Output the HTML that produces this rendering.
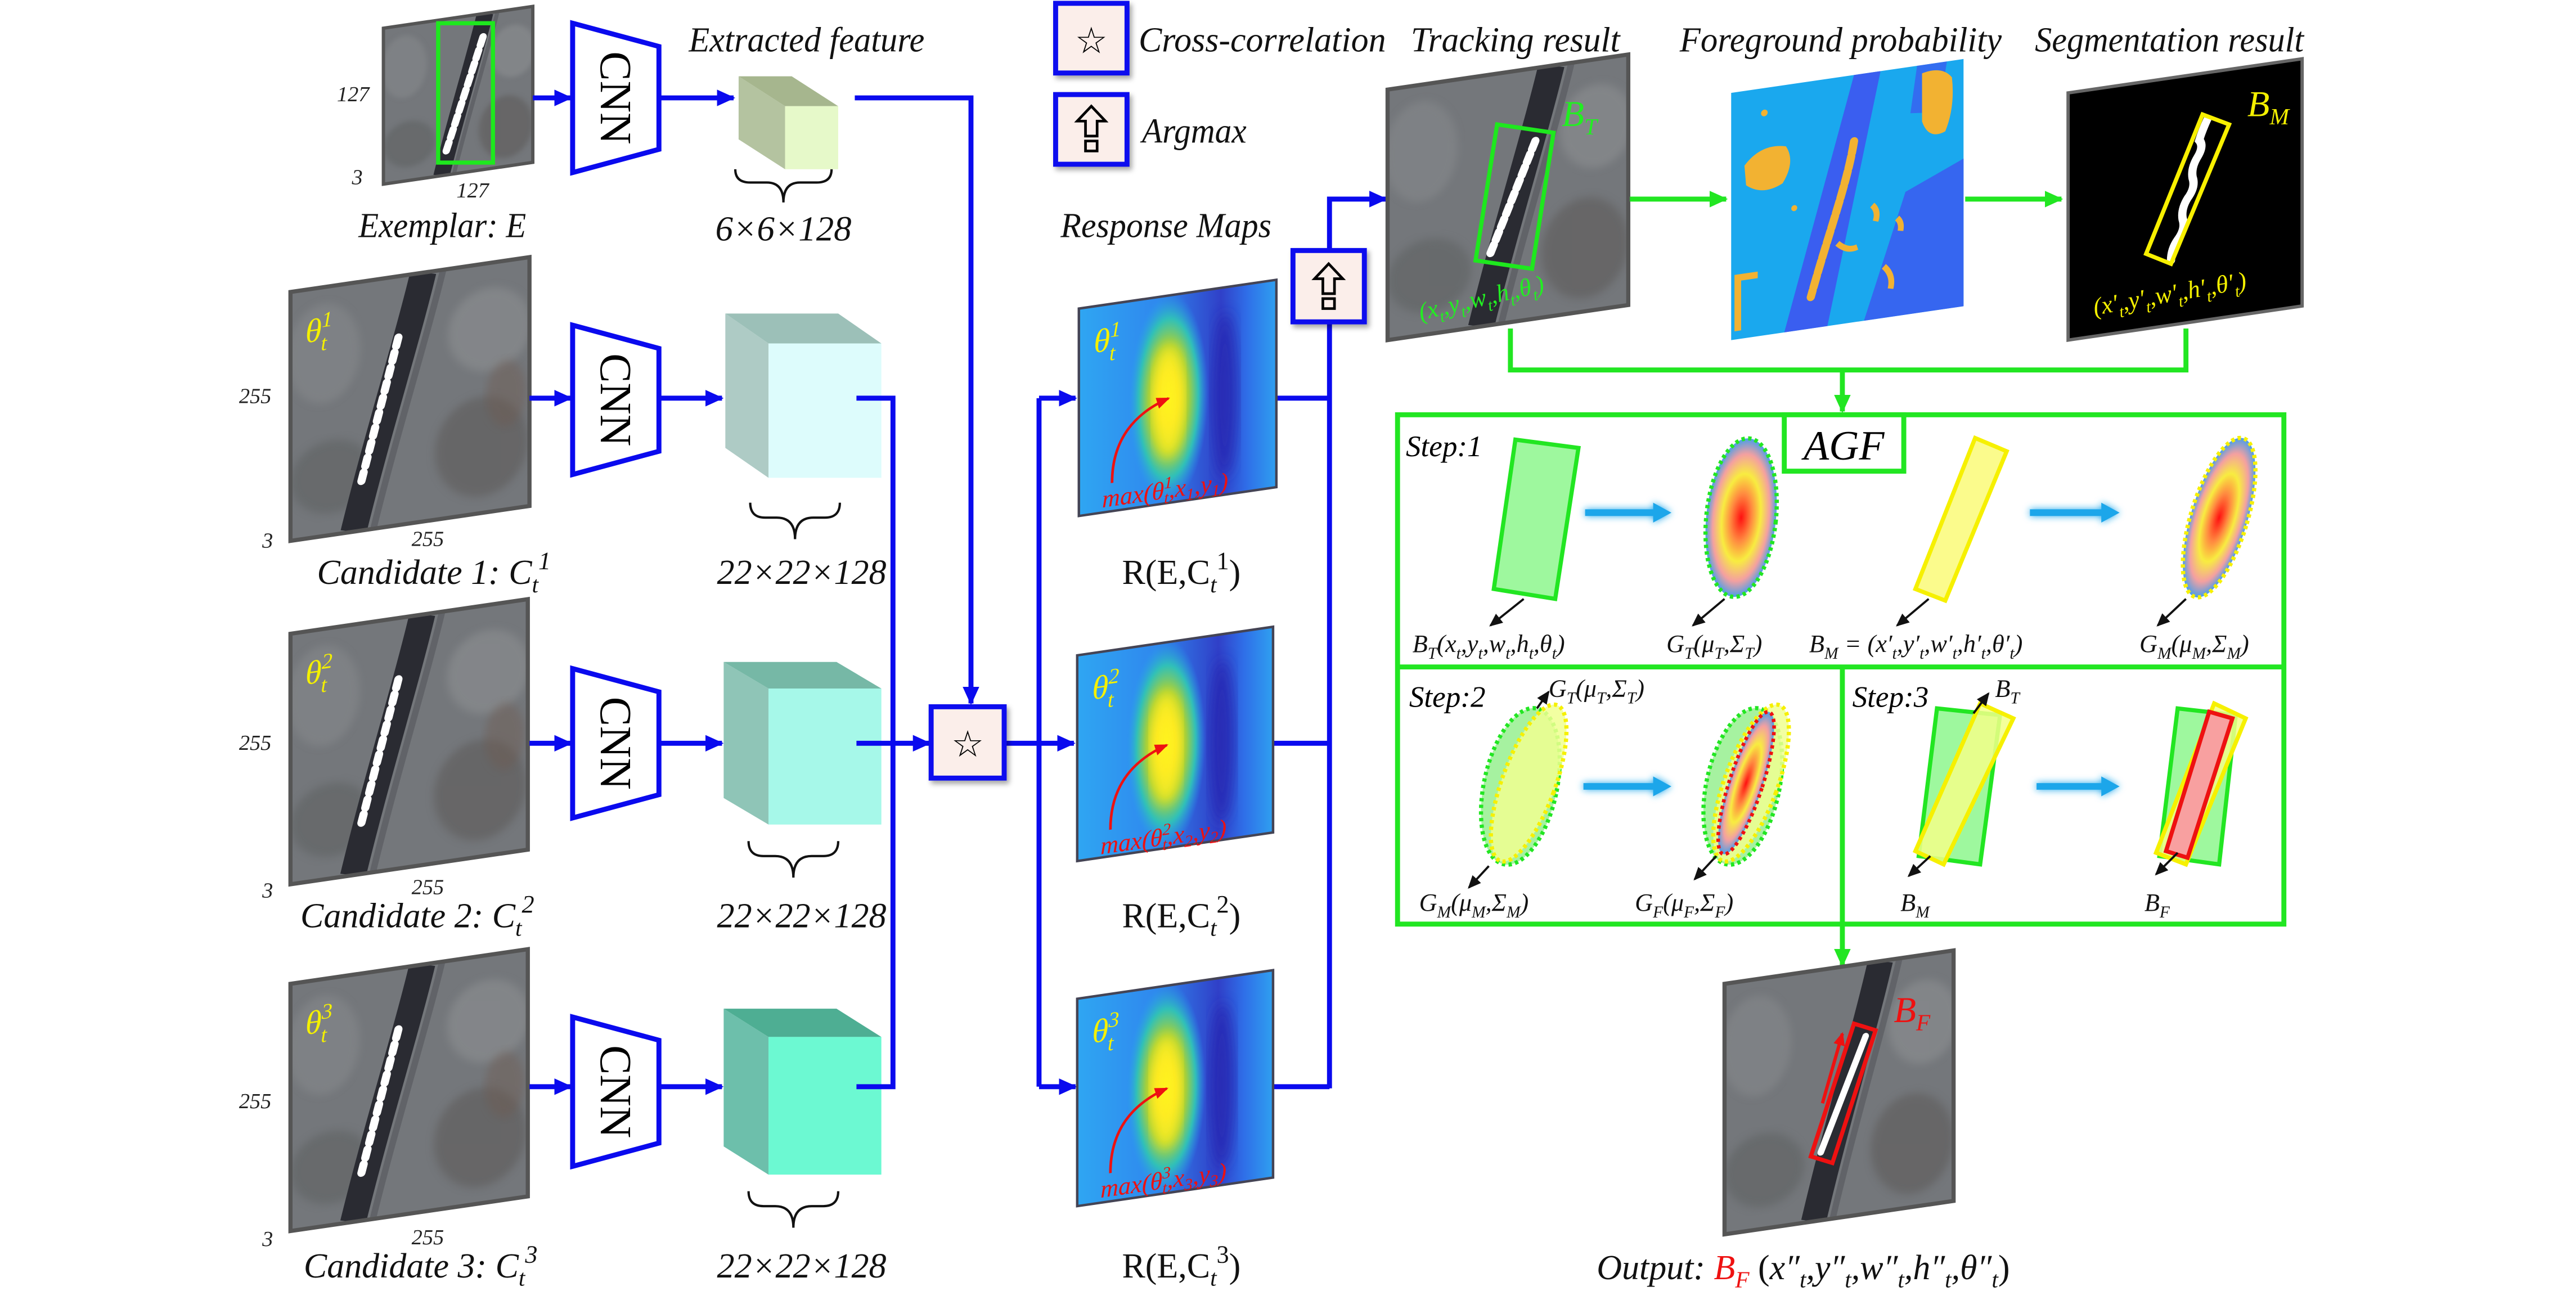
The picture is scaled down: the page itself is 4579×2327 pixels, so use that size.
<!DOCTYPE html>
<html><head><meta charset="utf-8"><title>Tracking pipeline diagram</title>
<style>
html,body{margin:0;padding:0;background:#fff;}
svg{display:block;}
text{font-family:"Liberation Serif","DejaVu Serif",serif;font-style:italic;}
.lbl{font-size:21px;fill:#111;}
.sm{font-size:13px;fill:#222;}
.fm{font-size:15px;fill:#111;}
</style></head>
<body>
<svg xmlns="http://www.w3.org/2000/svg" width="4579" height="2327" viewBox="0 0 1552 789" preserveAspectRatio="none" font-family="Liberation Serif, DejaVu Serif, serif">
<defs>
  <marker id="ab" markerUnits="userSpaceOnUse" markerWidth="12" markerHeight="10" refX="10" refY="5" orient="auto"><path d="M0,0 L11,5 L0,10 z" fill="#0a0aee"/></marker>
  <marker id="ag" markerUnits="userSpaceOnUse" markerWidth="12" markerHeight="10" refX="10" refY="5" orient="auto"><path d="M0,0 L11,5 L0,10 z" fill="#22e622"/></marker>
  <marker id="ak" markerUnits="userSpaceOnUse" markerWidth="8" markerHeight="7" refX="7" refY="3.5" orient="auto"><path d="M0,0 L8,3.5 L0,7 z" fill="#111"/></marker>
  <marker id="ar" markerUnits="userSpaceOnUse" markerWidth="8" markerHeight="7" refX="7" refY="3.5" orient="auto"><path d="M0,0 L8,3.5 L0,7 z" fill="#ee1111"/></marker>
  <filter id="glow" x="-30%" y="-200%" width="160%" height="500%"><feGaussianBlur stdDeviation="2.2" result="b"/><feMerge><feMergeNode in="b"/><feMergeNode in="SourceGraphic"/></feMerge></filter>
  <filter id="blur3"><feGaussianBlur stdDeviation="4"/></filter>
  <filter id="blur2"><feGaussianBlur stdDeviation="2.5"/></filter>
  <filter id="shadow" x="-20%" y="-20%" width="150%" height="150%"><feDropShadow dx="1.5" dy="2" stdDeviation="1.5" flood-color="#000" flood-opacity="0.35"/></filter>
  <radialGradient id="heat" cx="0.5" cy="0.5" r="0.5">
    <stop offset="0" stop-color="#ffff10"/><stop offset="0.25" stop-color="#f8e020"/>
    <stop offset="0.5" stop-color="#a8d038"/><stop offset="0.75" stop-color="#30c0b8"/>
    <stop offset="1" stop-color="#2a9cf0" stop-opacity="0"/></radialGradient>
  <radialGradient id="gauss" cx="0.5" cy="0.5" r="0.5">
    <stop offset="0" stop-color="#ff1010"/><stop offset="0.3" stop-color="#ff8a40"/>
    <stop offset="0.55" stop-color="#f8ec40"/><stop offset="0.8" stop-color="#f4a0a0"/>
    <stop offset="1" stop-color="#4a9ee8"/></radialGradient>
  <linearGradient id="mapbg" x1="0" x2="1" y1="0" y2="0">
    <stop offset="0" stop-color="#2fa6f2"/><stop offset="0.4" stop-color="#2f88ee"/>
    <stop offset="0.72" stop-color="#3040c8"/><stop offset="0.85" stop-color="#2f6ee8"/><stop offset="1" stop-color="#2fa0f0"/></linearGradient>
  <symbol id="sat" viewBox="0 0 144 150" preserveAspectRatio="none">
    <rect x="0" y="0" width="144" height="150" fill="#74777b"/>
    <ellipse cx="20" cy="40" rx="22" ry="30" fill="#8c8f92" opacity="0.45" filter="url(#blur2)"/>
    <ellipse cx="25" cy="115" rx="25" ry="22" fill="#5b5e5f" opacity="0.5" filter="url(#blur2)"/>
    <ellipse cx="120" cy="40" rx="25" ry="25" fill="#9a9c9e" opacity="0.4" filter="url(#blur2)"/>
    <ellipse cx="115" cy="110" rx="28" ry="30" fill="#5a5654" opacity="0.5" filter="url(#blur2)"/>
    <ellipse cx="130" cy="80" rx="12" ry="20" fill="#6e5a50" opacity="0.4" filter="url(#blur2)"/>
    <path d="M80,0 C70,40 52,95 38,150" stroke="#2a2b32" stroke-width="16" fill="none"/>
    <path d="M92,0 C82,40 64,95 50,150" stroke="#55575c" stroke-width="4" fill="none" opacity="0.6"/>
  </symbol>
  <symbol id="sat2" viewBox="0 0 144 150" preserveAspectRatio="none">
    <rect x="0" y="0" width="144" height="150" fill="#74777b"/>
    <ellipse cx="20" cy="40" rx="22" ry="30" fill="#8c8f92" opacity="0.45" filter="url(#blur2)"/>
    <ellipse cx="25" cy="115" rx="25" ry="22" fill="#5b5e5f" opacity="0.5" filter="url(#blur2)"/>
    <ellipse cx="125" cy="40" rx="22" ry="25" fill="#9a9c9e" opacity="0.4" filter="url(#blur2)"/>
    <ellipse cx="118" cy="112" rx="26" ry="30" fill="#5a5654" opacity="0.5" filter="url(#blur2)"/>
    <path d="M98,0 C88,40 70,95 56,150" stroke="#2a2b32" stroke-width="16" fill="none"/>
    <path d="M110,0 C100,40 82,95 68,150" stroke="#55575c" stroke-width="4" fill="none" opacity="0.6"/>
  </symbol>
  <symbol id="rmap" viewBox="0 0 119 125" preserveAspectRatio="none">
    <rect x="0" y="0" width="119" height="125" fill="url(#mapbg)"/>
    <ellipse cx="88" cy="65" rx="8" ry="50" fill="#2828b0" filter="url(#blur3)" opacity="0.8"/>
    <ellipse cx="54" cy="62" rx="24" ry="64" fill="url(#heat)"/>
    <ellipse cx="54" cy="64" rx="9" ry="34" fill="#fff020" filter="url(#blur3)" opacity="0.8"/>
  </symbol>
</defs>

<!-- ===== Legend ===== -->
<g>
  <rect x="636" y="2" width="43" height="42" fill="#fbeeea" stroke="#0a0aee" stroke-width="3" filter="url(#shadow)"/>
  <text x="657.5" y="32" font-size="22" text-anchor="middle" style="font-style:normal;font-family:'DejaVu Sans',sans-serif" fill="#000">☆</text>
  <text class="lbl" x="686" y="31" textLength="149" lengthAdjust="spacingAndGlyphs">Cross-correlation</text>
  <rect x="636" y="57" width="43" height="42" fill="#fbeeea" stroke="#0a0aee" stroke-width="3" filter="url(#shadow)"/>
  <path d="M657.5,64 L666,73 L661,73 L661,82 L654,82 L654,73 L649,73 Z M654,85 h7 v6 h-7 Z" fill="none" stroke="#000" stroke-width="1.6"/>
  <text class="lbl" x="688" y="86" textLength="63" lengthAdjust="spacingAndGlyphs">Argmax</text>
</g>

<!-- ===== Titles ===== -->
<text class="lbl" x="415" y="31" textLength="142" lengthAdjust="spacingAndGlyphs">Extracted feature</text>
<text class="lbl" x="639" y="143" textLength="127" lengthAdjust="spacingAndGlyphs">Response Maps</text>
<text class="lbl" x="850" y="31" textLength="126" lengthAdjust="spacingAndGlyphs">Tracking result</text>
<text class="lbl" x="1012" y="31" textLength="194" lengthAdjust="spacingAndGlyphs">Foreground probability</text>
<text class="lbl" x="1226" y="31" textLength="162" lengthAdjust="spacingAndGlyphs">Segmentation result</text>

<!-- ===== Exemplar ===== -->
<g transform="translate(231,17) skewY(-8.3)">
  <use href="#sat2" x="0" y="0" width="90" height="94"/>
  <rect x="0" y="0" width="90" height="94" fill="none" stroke="#555" stroke-width="2"/>
  <line x1="60" y1="14" x2="37" y2="82" stroke="#fff" stroke-width="4.5" stroke-dasharray="5 3" stroke-linecap="round"/>
</g>
<rect x="264" y="14" width="33" height="84" fill="none" stroke="#1ee81e" stroke-width="2.5"/>
<text class="sm" x="203" y="61">127</text>
<text class="sm" x="212" y="111">3</text>
<text class="sm" x="275" y="119">127</text>
<text class="lbl" x="216" y="143" textLength="101" lengthAdjust="spacingAndGlyphs">Exemplar: E</text>

<!-- ===== Candidates ===== -->
<g transform="translate(175,176) skewY(-8.3)">
  <use href="#sat" x="0" y="0" width="144" height="150"/>
  <rect x="0" y="0" width="144" height="150" fill="none" stroke="#555" stroke-width="2.5"/>
  <line x1="65" y1="37" x2="42" y2="123" stroke="#fff" stroke-width="5" stroke-dasharray="5 4" stroke-linecap="round"/>
  <text x="9" y="32" font-size="20" fill="#f4f000">θ<tspan font-size="13" dy="-8">1</tspan><tspan font-size="13" dx="-7" dy="14">t</tspan></text>
</g>
<g transform="translate(175,382) skewY(-8.3)">
  <use href="#sat" x="0" y="0" width="143" height="151"/>
  <rect x="0" y="0" width="143" height="151" fill="none" stroke="#555" stroke-width="2.5"/>
  <line x1="65" y1="37" x2="42" y2="123" stroke="#fff" stroke-width="5" stroke-dasharray="5 4" stroke-linecap="round"/>
  <text x="9" y="32" font-size="20" fill="#f4f000">θ<tspan font-size="13" dy="-8">2</tspan><tspan font-size="13" dx="-7" dy="14">t</tspan></text>
</g>
<g transform="translate(175,593) skewY(-8.3)">
  <use href="#sat" x="0" y="0" width="143" height="149"/>
  <rect x="0" y="0" width="143" height="149" fill="none" stroke="#555" stroke-width="2.5"/>
  <line x1="65" y1="37" x2="42" y2="123" stroke="#fff" stroke-width="5" stroke-dasharray="5 4" stroke-linecap="round"/>
  <text x="9" y="32" font-size="20" fill="#f4f000">θ<tspan font-size="13" dy="-8">3</tspan><tspan font-size="13" dx="-7" dy="14">t</tspan></text>
</g>
<g>
  <text class="sm" x="144" y="243">255</text><text class="sm" x="158" y="330">3</text><text class="sm" x="248" y="329">255</text>
  <text class="sm" x="144" y="452">255</text><text class="sm" x="158" y="541">3</text><text class="sm" x="248" y="539">255</text>
  <text class="sm" x="144" y="668">255</text><text class="sm" x="158" y="751">3</text><text class="sm" x="248" y="750">255</text>
</g>
<text class="lbl" x="191" y="352">Candidate 1: C<tspan font-size="14" dy="5">t</tspan><tspan font-size="15" dy="-14">1</tspan></text>
<text class="lbl" x="181" y="559">Candidate 2: C<tspan font-size="14" dy="5">t</tspan><tspan font-size="15" dy="-14">2</tspan></text>
<text class="lbl" x="183" y="770">Candidate 3: C<tspan font-size="14" dy="5">t</tspan><tspan font-size="15" dy="-14">3</tspan></text>

<!-- ===== CNNs ===== -->
<g>
  <polygon points="345,14 397,28 397,90 345,104" fill="#fff" stroke="#0a0aee" stroke-width="3"/>
  <text transform="translate(362,59) rotate(90)" x="0" y="0" text-anchor="middle" font-size="27" style="font-style:normal" textLength="56" lengthAdjust="spacingAndGlyphs">CNN</text>
</g>
<g>
  <polygon points="345,196 397,210 397,272 345,286" fill="#fff" stroke="#0a0aee" stroke-width="3"/>
  <text transform="translate(362,241) rotate(90)" x="0" y="0" text-anchor="middle" font-size="27" style="font-style:normal" textLength="56" lengthAdjust="spacingAndGlyphs">CNN</text>
</g>
<g>
  <polygon points="345,403 397,417 397,479 345,493" fill="#fff" stroke="#0a0aee" stroke-width="3"/>
  <text transform="translate(362,448) rotate(90)" x="0" y="0" text-anchor="middle" font-size="27" style="font-style:normal" textLength="56" lengthAdjust="spacingAndGlyphs">CNN</text>
</g>
<g>
  <polygon points="345,613 397,627 397,689 345,703" fill="#fff" stroke="#0a0aee" stroke-width="3"/>
  <text transform="translate(362,658) rotate(90)" x="0" y="0" text-anchor="middle" font-size="27" style="font-style:normal" textLength="56" lengthAdjust="spacingAndGlyphs">CNN</text>
</g>

<!-- ===== Feature cubes ===== -->
<g>
  <polygon points="473,64 445,46 445,84 473,102" fill="#b4c3a0"/>
  <polygon points="473,64 445,46 477,46 505,64" fill="#a6b68e"/>
  <rect x="473" y="64" width="32" height="38" fill="#e6f9c9"/>
</g>
<g>
  <polygon points="463,207 437,189 437,270 463,288" fill="#aecbc5"/>
  <polygon points="463,207 437,189 505,189 531,207" fill="#9cc0b8"/>
  <rect x="463" y="207" width="68" height="81" fill="#ddfcfc"/>
</g>
<g>
  <polygon points="463,415 436,399 436,481 463,497" fill="#8fc5b7"/>
  <polygon points="463,415 436,399 504,399 531,415" fill="#76b8a6"/>
  <rect x="463" y="415" width="68" height="82" fill="#a6f8e9"/>
</g>
<g>
  <polygon points="463,625 436,608 436,691 463,708" fill="#6dbfab"/>
  <polygon points="463,625 436,608 504,608 531,625" fill="#4eae93"/>
  <rect x="463" y="625" width="68" height="83" fill="#6cf9d2"/>
</g>
<g fill="none" stroke="#111" stroke-width="1.4">
  <path d="M443,102 q0,8 9,8 h10 q10,0 10,12 q0,-12 10,-12 h10 q9,0 9,-8"/>
  <path d="M452,303 q0,9 9,9 h7 q11,0 11,13 q0,-13 11,-13 h7 q9,0 9,-9"/>
  <path d="M451,507 q0,9 9,9 h7 q11,0 11,13 q0,-13 11,-13 h7 q9,0 9,-9"/>
  <path d="M451,718 q0,9 9,9 h7 q11,0 11,13 q0,-13 11,-13 h7 q9,0 9,-9"/>
</g>
<text class="lbl" x="431" y="145" textLength="82" lengthAdjust="spacingAndGlyphs">6×6×128</text>
<text class="lbl" x="432" y="352" textLength="102" lengthAdjust="spacingAndGlyphs">22×22×128</text>
<text class="lbl" x="432" y="559" textLength="102" lengthAdjust="spacingAndGlyphs">22×22×128</text>
<text class="lbl" x="432" y="770" textLength="102" lengthAdjust="spacingAndGlyphs">22×22×128</text>

<!-- ===== Blue connectors ===== -->
<g fill="none" stroke="#0a0aee" stroke-width="3">
  <line x1="321" y1="59" x2="344" y2="59" marker-end="url(#ab)"/>
  <line x1="397" y1="59" x2="442" y2="59" marker-end="url(#ab)"/>
  <polyline points="515,59 585,59 585,424" marker-end="url(#ab)"/>
  <line x1="319" y1="240" x2="344" y2="240" marker-end="url(#ab)"/>
  <line x1="397" y1="240" x2="435" y2="240" marker-end="url(#ab)"/>
  <line x1="319" y1="448" x2="344" y2="448" marker-end="url(#ab)"/>
  <line x1="397" y1="448" x2="435" y2="448" marker-end="url(#ab)"/>
  <line x1="319" y1="655" x2="344" y2="655" marker-end="url(#ab)"/>
  <line x1="397" y1="655" x2="435" y2="655" marker-end="url(#ab)"/>
  <polyline points="516,240 538,240 538,655 516,655"/>
  <line x1="516" y1="448" x2="560" y2="448" marker-end="url(#ab)"/>
  <line x1="605" y1="448" x2="647" y2="448" marker-end="url(#ab)"/>
  <line x1="626" y1="240" x2="626" y2="655"/>
  <line x1="626" y1="240" x2="648" y2="240" marker-end="url(#ab)"/>
  <line x1="626" y1="655" x2="648" y2="655" marker-end="url(#ab)"/>
  <line x1="767" y1="240" x2="801" y2="240"/>
  <line x1="767" y1="448" x2="801" y2="448"/>
  <line x1="767" y1="655" x2="801" y2="655"/>
  <line x1="801" y1="194" x2="801" y2="656"/>
  <polyline points="801,151 801,120 835,120" marker-end="url(#ab)"/>
</g>
<rect x="561" y="426" width="44" height="43" fill="#fbeeea" stroke="#0a0aee" stroke-width="3" filter="url(#shadow)"/>
<text x="583" y="456" font-size="22" text-anchor="middle" style="font-style:normal;font-family:'DejaVu Sans',sans-serif">☆</text>
<rect x="779" y="151" width="43" height="43" fill="#fbeeea" stroke="#0a0aee" stroke-width="3" filter="url(#shadow)"/>
<path d="M800.5,159 L809,168 L804,168 L804,177 L797,177 L797,168 L792,168 Z M797,180 h7 v6 h-7 Z" fill="none" stroke="#000" stroke-width="1.6"/>

<!-- ===== Response maps ===== -->
<g transform="translate(650,186) skewY(-8.3)">
  <use href="#rmap" x="0" y="0" width="119" height="125"/>
  <rect width="119" height="125" fill="none" stroke="#445" stroke-width="1.5"/>
  <path d="M20,108 Q20,72 54,62" fill="none" stroke="#ee1111" stroke-width="1.6" marker-end="url(#ar)"/>
  <text x="14" y="122" font-size="15" fill="#ee1111">max(θ<tspan font-size="10" dy="-6">1</tspan><tspan font-size="10" dx="-5" dy="9">t</tspan><tspan dy="-3">,x</tspan><tspan font-size="10" dy="3">1</tspan><tspan dy="-3">,y</tspan><tspan font-size="10" dy="3">1</tspan><tspan dy="-3">)</tspan></text>
  <text x="9" y="28" font-size="20" fill="#f4f000">θ<tspan font-size="13" dy="-8">1</tspan><tspan font-size="13" dx="-7" dy="14">t</tspan></text>
</g>
<g transform="translate(649,395) skewY(-8.3)">
  <use href="#rmap" x="0" y="0" width="118" height="124"/>
  <rect width="118" height="124" fill="none" stroke="#445" stroke-width="1.5"/>
  <path d="M20,108 Q20,72 54,62" fill="none" stroke="#ee1111" stroke-width="1.6" marker-end="url(#ar)"/>
  <text x="14" y="122" font-size="15" fill="#ee1111">max(θ<tspan font-size="10" dy="-6">2</tspan><tspan font-size="10" dx="-5" dy="9">t</tspan><tspan dy="-3">,x</tspan><tspan font-size="10" dy="3">2</tspan><tspan dy="-3">,y</tspan><tspan font-size="10" dy="3">2</tspan><tspan dy="-3">)</tspan></text>
  <text x="9" y="28" font-size="20" fill="#f4f000">θ<tspan font-size="13" dy="-8">2</tspan><tspan font-size="13" dx="-7" dy="14">t</tspan></text>
</g>
<g transform="translate(649,602) skewY(-8.3)">
  <use href="#rmap" x="0" y="0" width="118" height="125"/>
  <rect width="118" height="125" fill="none" stroke="#445" stroke-width="1.5"/>
  <path d="M20,108 Q20,72 54,62" fill="none" stroke="#ee1111" stroke-width="1.6" marker-end="url(#ar)"/>
  <text x="14" y="122" font-size="15" fill="#ee1111">max(θ<tspan font-size="10" dy="-6">3</tspan><tspan font-size="10" dx="-5" dy="9">t</tspan><tspan dy="-3">,x</tspan><tspan font-size="10" dy="3">3</tspan><tspan dy="-3">,y</tspan><tspan font-size="10" dy="3">3</tspan><tspan dy="-3">)</tspan></text>
  <text x="9" y="28" font-size="20" fill="#f4f000">θ<tspan font-size="13" dy="-8">3</tspan><tspan font-size="13" dx="-7" dy="14">t</tspan></text>
</g>
<text class="lbl" x="676" y="352" style="font-style:normal">R(E,C<tspan font-size="14" dy="5" style="font-style:italic">t</tspan><tspan font-size="15" dy="-14">1</tspan><tspan dy="9">)</tspan></text>
<text class="lbl" x="676" y="559" style="font-style:normal">R(E,C<tspan font-size="14" dy="5" style="font-style:italic">t</tspan><tspan font-size="15" dy="-14">2</tspan><tspan dy="9">)</tspan></text>
<text class="lbl" x="676" y="770" style="font-style:normal">R(E,C<tspan font-size="14" dy="5" style="font-style:italic">t</tspan><tspan font-size="15" dy="-14">3</tspan><tspan dy="9">)</tspan></text>

<!-- ===== Tracking result ===== -->
<g transform="translate(836,54) skewY(-8.3)">
  <use href="#sat2" x="0" y="0" width="145" height="151"/>
  <rect width="145" height="151" fill="none" stroke="#555" stroke-width="2.5"/>
  <line x1="89" y1="44" x2="61" y2="110" stroke="#fff" stroke-width="5" stroke-dasharray="5 3" stroke-linecap="round"/>
</g>
<polygon points="902,75 936,80 923,162 889,157" fill="none" stroke="#1ee81e" stroke-width="2.5"/>
<text x="941" y="76" font-size="22" fill="#22ee22">B<tspan font-size="14" dy="5">T</tspan></text>
<text transform="translate(856,193) rotate(-13)" font-size="15" fill="#22ee22">(x<tspan font-size="10" dy="4">t</tspan><tspan dy="-4">,y</tspan><tspan font-size="10" dy="4">t</tspan><tspan dy="-4">,w</tspan><tspan font-size="10" dy="4">t</tspan><tspan dy="-4">,h</tspan><tspan font-size="10" dy="4">t</tspan><tspan dy="-4">,θ</tspan><tspan font-size="10" dy="4">t</tspan><tspan dy="-4">)</tspan></text>

<!-- ===== Foreground probability ===== -->
<g transform="translate(1043,56) skewY(-8.3)">
  <rect width="140" height="149" fill="#1aa8ee"/>
  <polygon points="74,0 90,0 58,149 32,149" fill="#3a5ef0"/>
  <polygon points="105,75 140,60 140,149 80,149" fill="#3a5ef0" opacity="0.9"/>
  <polygon points="112,0 130,0 125,30 108,28" fill="#3a5ef0" opacity="0.8"/>
  <path d="M8,45 q10,-12 25,-8 q6,10 -2,22 q-12,6 -22,-2 z" fill="#f2b232"/>
  <path d="M115,5 q12,-3 18,5 q2,18 -4,32 q-10,4 -14,-8 z" fill="#f2b232"/>
  <path d="M74,40 C70,65 58,95 48,130" stroke="#f2b232" stroke-width="5" fill="none" stroke-linecap="round" stroke-dasharray="7 2"/>
  <path d="M2,110 h14 v4 h-10 v30 h-4 z" fill="#f2b232"/>
  <path d="M85,80 q4,4 2,10 M64,100 q6,6 12,4 M92,118 q6,6 4,14 M100,90 q3,3 2,8" stroke="#f2b232" stroke-width="3.5" fill="none"/>
  <circle cx="20" cy="15" r="2" fill="#f2b232"/><circle cx="38" cy="75" r="1.8" fill="#f2b232"/>
</g>

<!-- ===== Segmentation result ===== -->
<g transform="translate(1246,56) skewY(-8.3)">
  <rect width="141" height="149" fill="#000"/>
  <rect width="141" height="149" fill="none" stroke="#666" stroke-width="2"/>
  <path d="M84,28 q-3,6 -5,12 q3,4 -1,10 q-4,6 -3,12 q2,6 -3,12 q-4,6 -3,12 q2,6 -3,12 q-4,5 -4,12" stroke="#fff" stroke-width="5" fill="none" stroke-linecap="round"/>
</g>
<polygon points="1327,69 1343,75 1308,159 1293,153" fill="none" stroke="#f8f000" stroke-width="2.5"/>
<text x="1354" y="70" font-size="22" fill="#f4f000">B<tspan font-size="14" dy="5">M</tspan></text>
<text transform="translate(1262,190) rotate(-10)" font-size="15" fill="#f4f000">(x′<tspan font-size="10" dy="4">t</tspan><tspan dy="-4">,y′</tspan><tspan font-size="10" dy="4">t</tspan><tspan dy="-4">,w′</tspan><tspan font-size="10" dy="4">t</tspan><tspan dy="-4">,h′</tspan><tspan font-size="10" dy="4">t</tspan><tspan dy="-4">,θ′</tspan><tspan font-size="10" dy="4">t</tspan><tspan dy="-4">)</tspan></text>

<!-- ===== Green connectors ===== -->
<g fill="none" stroke="#22e622" stroke-width="3">
  <line x1="982" y1="120" x2="1040" y2="120" marker-end="url(#ag)"/>
  <line x1="1184" y1="120" x2="1242" y2="120" marker-end="url(#ag)"/>
  <polyline points="910,198 910,223 1317,223 1317,198"/>
  <line x1="1110" y1="223" x2="1110" y2="248" marker-end="url(#ag)"/>
  <line x1="1110" y1="557" x2="1110" y2="582" marker-end="url(#ag)"/>
</g>

<!-- ===== AGF panel ===== -->
<g>
  <rect x="842" y="250" width="534" height="307" fill="none" stroke="#22e622" stroke-width="3"/>
  <line x1="842" y1="402" x2="1376" y2="402" stroke="#22e622" stroke-width="3"/>
  <line x1="1110" y1="402" x2="1110" y2="557" stroke="#22e622" stroke-width="3"/>
  <rect x="1075" y="250" width="72" height="34" fill="#fff" stroke="#22e622" stroke-width="3"/>
  <text x="1111" y="277" font-size="25" text-anchor="middle">AGF</text>
</g>
<text x="847" y="275" font-size="18">Step:1</text>
<text x="849" y="426" font-size="18">Step:2</text>
<text x="1116" y="426" font-size="18">Step:3</text>

<!-- Step 1 -->
<polygon points="913,265 951,270 937,361 900,355" fill="#9ef89e" stroke="#22e622" stroke-width="2.5"/>
<g filter="url(#glow)"><line x1="955" y1="309" x2="998" y2="309" stroke="#1ea6ea" stroke-width="4"/><polygon points="996,303 1007,309 996,315" fill="#1ea6ea"/></g>
<ellipse cx="1049" cy="312" rx="21" ry="48" transform="rotate(6 1049 312)" fill="url(#gauss)" stroke="#22e622" stroke-width="2.5" stroke-dasharray="2 2"/>
<polygon points="1190,264 1209,272 1172,362 1154,355" fill="#fbfb8c" stroke="#f6f000" stroke-width="2.5"/>
<g filter="url(#glow)"><line x1="1223" y1="309" x2="1268" y2="309" stroke="#1ea6ea" stroke-width="4"/><polygon points="1266,303 1277,309 1266,315" fill="#1ea6ea"/></g>
<ellipse cx="1337" cy="312" rx="17" ry="50" transform="rotate(17 1337 312)" fill="url(#gauss)" stroke="#f6f000" stroke-width="2.5" stroke-dasharray="2 2"/>
<g stroke="#111" stroke-width="1.3">
  <line x1="918" y1="361" x2="898" y2="377" marker-end="url(#ak)"/>
  <line x1="1039" y1="361" x2="1020" y2="377" marker-end="url(#ak)"/>
  <line x1="1162" y1="361" x2="1143" y2="377" marker-end="url(#ak)"/>
  <line x1="1317" y1="361" x2="1300" y2="377" marker-end="url(#ak)"/>
</g>
<text class="fm" x="851" y="393">B<tspan font-size="10" dy="4">T</tspan><tspan dy="-4">(x</tspan><tspan font-size="10" dy="4">t</tspan><tspan dy="-4">,y</tspan><tspan font-size="10" dy="4">t</tspan><tspan dy="-4">,w</tspan><tspan font-size="10" dy="4">t</tspan><tspan dy="-4">,h</tspan><tspan font-size="10" dy="4">t</tspan><tspan dy="-4">,θ</tspan><tspan font-size="10" dy="4">t</tspan><tspan dy="-4">)</tspan></text>
<text class="fm" x="1004" y="393">G<tspan font-size="10" dy="4">T</tspan><tspan dy="-4">(μ</tspan><tspan font-size="10" dy="4">T</tspan><tspan dy="-4">,Σ</tspan><tspan font-size="10" dy="4">T</tspan><tspan dy="-4">)</tspan></text>
<text class="fm" x="1090" y="393">B<tspan font-size="10" dy="4">M</tspan><tspan dy="-4"> = (x′</tspan><tspan font-size="10" dy="4">t</tspan><tspan dy="-4">,y′</tspan><tspan font-size="10" dy="4">t</tspan><tspan dy="-4">,w′</tspan><tspan font-size="10" dy="4">t</tspan><tspan dy="-4">,h′</tspan><tspan font-size="10" dy="4">t</tspan><tspan dy="-4">,θ′</tspan><tspan font-size="10" dy="4">t</tspan><tspan dy="-4">)</tspan></text>
<text class="fm" x="1289" y="393">G<tspan font-size="10" dy="4">M</tspan><tspan dy="-4">(μ</tspan><tspan font-size="10" dy="4">M</tspan><tspan dy="-4">,Σ</tspan><tspan font-size="10" dy="4">M</tspan><tspan dy="-4">)</tspan></text>

<!-- Step 2 -->
<g>
  <ellipse cx="916" cy="474" rx="22" ry="48" transform="rotate(12 916 474)" fill="#a6f2a0" stroke="#22e622" stroke-width="2.5" stroke-dasharray="2 2"/>
  <ellipse cx="921" cy="472" rx="16" ry="50" transform="rotate(20 921 472)" fill="#f0ff90" fill-opacity="0.85" stroke="#f6f000" stroke-width="2.5" stroke-dasharray="2 2"/>
</g>
<g filter="url(#glow)"><line x1="954" y1="474" x2="998" y2="474" stroke="#1ea6ea" stroke-width="4"/><polygon points="996,468 1007,474 996,480" fill="#1ea6ea"/></g>
<g>
  <ellipse cx="1050" cy="474" rx="22" ry="48" transform="rotate(12 1050 474)" fill="#a6f2a0" stroke="#22e622" stroke-width="2.5" stroke-dasharray="2 2"/>
  <ellipse cx="1055" cy="472" rx="16" ry="50" transform="rotate(20 1055 472)" fill="#f0ff90" fill-opacity="0.85" stroke="#f6f000" stroke-width="2.5" stroke-dasharray="2 2"/>
  <ellipse cx="1052" cy="472" rx="10" ry="45" transform="rotate(18 1052 472)" fill="url(#gauss)" stroke="#ee1111" stroke-width="2.2" stroke-dasharray="2 2"/>
</g>
<g stroke="#111" stroke-width="1.3">
  <line x1="926" y1="427" x2="933" y2="417" marker-end="url(#ak)"/>
  <line x1="897" y1="522" x2="885" y2="535" marker-end="url(#ak)"/>
  <line x1="1034" y1="516" x2="1021" y2="530" marker-end="url(#ak)"/>
</g>
<text class="fm" x="933" y="420">G<tspan font-size="10" dy="4">T</tspan><tspan dy="-4">(μ</tspan><tspan font-size="10" dy="4">T</tspan><tspan dy="-4">,Σ</tspan><tspan font-size="10" dy="4">T</tspan><tspan dy="-4">)</tspan></text>
<text class="fm" x="855" y="549">G<tspan font-size="10" dy="4">M</tspan><tspan dy="-4">(μ</tspan><tspan font-size="10" dy="4">M</tspan><tspan dy="-4">,Σ</tspan><tspan font-size="10" dy="4">M</tspan><tspan dy="-4">)</tspan></text>
<text class="fm" x="985" y="549">G<tspan font-size="10" dy="4">F</tspan><tspan dy="-4">(μ</tspan><tspan font-size="10" dy="4">F</tspan><tspan dy="-4">,Σ</tspan><tspan font-size="10" dy="4">F</tspan><tspan dy="-4">)</tspan></text>

<!-- Step 3 -->
<g>
  <polygon points="1167,427 1205,431 1193,521 1156,516" fill="#9ef89e" stroke="#22e622" stroke-width="2.5"/>
  <polygon points="1193,424 1213,433 1171,521 1154,513" fill="#f2ff88" fill-opacity="0.85" stroke="#f6f000" stroke-width="2.5"/>
</g>
<g filter="url(#glow)"><line x1="1227" y1="474" x2="1268" y2="474" stroke="#1ea6ea" stroke-width="4"/><polygon points="1266,468 1277,474 1266,480" fill="#1ea6ea"/></g>
<g>
  <polygon points="1312,427 1347,431 1337,521 1301,516" fill="#9ef89e" stroke="#22e622" stroke-width="2.5"/>
  <polygon points="1334,424 1353,433 1317,521 1299,514" fill="#f2ff88" fill-opacity="0.85" stroke="#f6f000" stroke-width="2.5"/>
  <polygon points="1331,429 1345,433 1318,517 1305,513" fill="#f8a0a0" stroke="#ee1111" stroke-width="2.5"/>
</g>
<g stroke="#111" stroke-width="1.3">
  <line x1="1189" y1="430" x2="1198" y2="418" marker-end="url(#ak)"/>
  <line x1="1163" y1="516" x2="1150" y2="528" marker-end="url(#ak)"/>
  <line x1="1312" y1="514" x2="1299" y2="527" marker-end="url(#ak)"/>
</g>
<text class="fm" x="1202" y="420">B<tspan font-size="10" dy="4">T</tspan></text>
<text class="fm" x="1145" y="549">B<tspan font-size="10" dy="4">M</tspan></text>
<text class="fm" x="1292" y="549">B<tspan font-size="10" dy="4">F</tspan></text>

<!-- ===== Output ===== -->
<g transform="translate(1039,593) skewY(-8.3)">
  <use href="#sat2" x="0" y="0" width="138" height="151"/>
  <rect width="138" height="151" fill="none" stroke="#555" stroke-width="2.5"/>
  <line x1="85" y1="44" x2="58" y2="110" stroke="#fff" stroke-width="4" stroke-linecap="round"/>
</g>
<polygon points="1117,617 1130,621 1104,701 1091,697" fill="none" stroke="#ee1111" stroke-width="2.5"/>
<line x1="1098" y1="665" x2="1110" y2="623" stroke="#ee1111" stroke-width="2" marker-end="url(#ar)"/>
<text x="1141" y="616" font-size="22" fill="#ee1111">B<tspan font-size="14" dy="5">F</tspan></text>
<text class="lbl" x="962" y="771">Output: <tspan fill="#ee1111">B<tspan font-size="14" dy="5">F</tspan></tspan><tspan dy="-5" style="font-style:normal"> (</tspan>x″<tspan font-size="14" dy="5">t</tspan><tspan dy="-5">,y″</tspan><tspan font-size="14" dy="5">t</tspan><tspan dy="-5">,w″</tspan><tspan font-size="14" dy="5">t</tspan><tspan dy="-5">,h″</tspan><tspan font-size="14" dy="5">t</tspan><tspan dy="-5">,θ″</tspan><tspan font-size="14" dy="5">t</tspan><tspan dy="-5" style="font-style:normal">)</tspan></text>
</svg>
</body></html>
